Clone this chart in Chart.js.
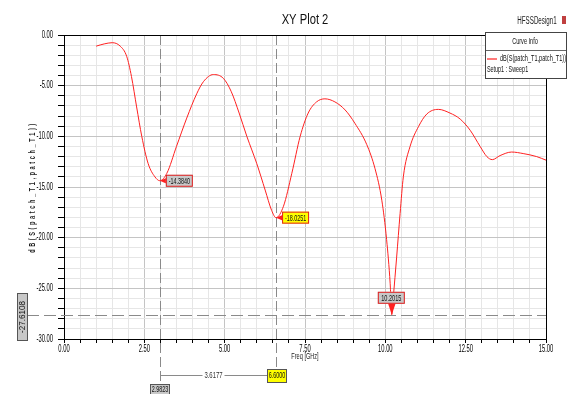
<!DOCTYPE html>
<html><head><meta charset="utf-8">
<script src="https://cdn.jsdelivr.net/npm/chart.js@4/dist/chart.umd.min.js"></script>
<style>html,body{margin:0;padding:0;background:#fff;}#wrap{width:569px;height:394px;position:relative;}</style>
</head><body><div id="wrap"><canvas id="c" width="569" height="394"></canvas></div>
<script>
const freqs = [1.0,1.25,1.5,1.75,1.95,2.1,2.26,2.42,2.62,2.83,2.98,3.2,3.5,3.82,4.13,4.34,4.65,4.96,5.2,5.45,5.69,6.0,6.26,6.46,6.6,6.83,7.09,7.35,7.6,7.86,8.12,8.43,8.75,9.05,9.42,9.68,9.89,10.04,10.15,10.2,10.25,10.35,10.46,10.56,10.77,11.03,11.29,11.65,12.01,12.33,12.64,12.95,13.16,13.33,13.57,13.93,14.29,14.71,15.0];
const s11 = [-1.1,-0.88,-0.76,-1.1,-2.1,-4.1,-7.1,-10.0,-12.7,-14.0,-14.38,-13.65,-11.0,-8.2,-5.8,-4.6,-3.9,-4.28,-5.55,-7.7,-10.0,-12.7,-15.3,-17.3,-18.03,-16.9,-13.65,-10.0,-7.7,-6.6,-6.3,-6.6,-7.4,-8.7,-10.8,-13.2,-16.3,-20.2,-24.5,-27.6,-25.8,-22.0,-17.6,-14.0,-11.0,-9.05,-7.8,-7.34,-7.7,-8.3,-9.4,-11.0,-12.0,-12.3,-11.9,-11.55,-11.7,-12.0,-12.35];
const markerFreqs = [2.9823, 6.60];
const markerVals = [-14.3840, -18.0251];
const markerFreqLabels = ["2.9823", "6.6000"];
const markerValLabels = ["-14.3840", "-18.0251"];
const deltaLabel = "3.6177";
const minFreq = 10.2015;
const minVal = -27.6108;
const minFreqLabel = "10.2015";
const minValLabel = "-27.6108";
const xTickLabelsEvery = 2.5;
const yTickLabelsEvery = 5;
const titleText = "XY Plot 2";
const designText = "HFSSDesign1";
const xTitle = "Freq [GHz]";
const yTitle = "dB(S(patch_T1,patch_T1))";
const legendHeader = "Curve Info";
const legendSeries = "dB(S(patch_T1,patch_T1))";
const legendSetup = "Setup1 : Sweep1";

const FONT = "'Liberation Sans',Arial,sans-serif";

function txt(ctx, s, x, y, o){
  o = o || {};
  ctx.save();
  ctx.translate(x, y);
  if (o.rot) ctx.rotate(o.rot);
  ctx.scale(o.sx || 0.62, 1);
  ctx.font = (o.bold ? 'bold ' : '') + (o.size || 9) + 'px ' + FONT;
  ctx.textAlign = o.align || 'center';
  ctx.textBaseline = 'middle';
  if (o.spacing) ctx.letterSpacing = o.spacing + 'px';
  ctx.fillStyle = o.color || '#111';
  ctx.fillText(s, 0, 0);
  ctx.restore();
}
function box(ctx, x, y, w, h, fill, stroke){
  ctx.fillStyle = fill; ctx.fillRect(x, y, w, h);
  ctx.strokeStyle = stroke; ctx.lineWidth = 1; ctx.setLineDash([]); ctx.strokeRect(x+0.5, y+0.5, w-1, h-1);
}

const overlay = {
  id: 'overlay',
  beforeDatasetsDraw(chart){
    const ctx = chart.ctx, xs = chart.scales.x, ys = chart.scales.y, a = chart.chartArea;
    ctx.save();
    ctx.strokeStyle = '#8a8a8a'; ctx.lineWidth = 1; ctx.setLineDash([10,4]);
    markerFreqs.forEach((f,i)=>{
      const px = Math.round(xs.getPixelForValue(f))+0.5;
      ctx.beginPath(); ctx.moveTo(px, a.top); ctx.lineTo(px, i===0?385:370); ctx.stroke();
    });
    const py = Math.round(ys.getPixelForValue(minVal))+0.5;
    ctx.setLineDash([12,5]);
    ctx.beginPath(); ctx.moveTo(27, py); ctx.lineTo(a.right, py); ctx.stroke();
    ctx.restore();
  },
  afterDatasetsDraw(chart){
    const ctx = chart.ctx, xs = chart.scales.x, ys = chart.scales.y, a = chart.chartArea;
    ctx.save();
    ctx.strokeStyle = '#000'; ctx.lineWidth = 1; ctx.setLineDash([]);
    ctx.beginPath(); ctx.moveTo(a.left, a.top+0.5); ctx.lineTo(a.right+0.5, a.top+0.5); ctx.lineTo(a.right+0.5, a.bottom); ctx.stroke();
    xs.ticks.forEach(t=>{
      if (Math.abs(t.value/xTickLabelsEvery - Math.round(t.value/xTickLabelsEvery)) < 1e-6)
        txt(ctx, t.value.toFixed(2), xs.getPixelForValue(t.value), a.bottom + 10, {size:10, sx:0.58, color:'#000'});
    });
    ys.ticks.forEach(t=>{
      if (Math.abs(t.value/yTickLabelsEvery - Math.round(t.value/yTickLabelsEvery)) < 1e-6)
        txt(ctx, t.value.toFixed(2), a.left - 11, ys.getPixelForValue(t.value), {size:10, sx:0.58, align:'right', color:'#000'});
    });
    const fills = ['#c8c8c8', '#ffff00'];
    markerFreqs.forEach((f,i)=>{
      const px = xs.getPixelForValue(f), py = ys.getPixelForValue(markerVals[i]);
      const bx = px + 6, by = py - 6, w = 27, h = 12;
      ctx.fillStyle = '#ff2020';
      ctx.beginPath(); ctx.moveTo(px, py); ctx.lineTo(bx+1, by+3); ctx.lineTo(bx+1, by+9); ctx.closePath(); ctx.fill();
      box(ctx, bx, by, w, h, fills[i], '#e02020');
      txt(ctx, markerValLabels[i], bx + w/2, by + h/2 + 0.5, {size:9, sx:0.6});
    });
    {
      const px = xs.getPixelForValue(minFreq), py = ys.getPixelForValue(minVal);
      const w = 27, h = 12, bx = px - 14, by = py - 23;
      ctx.fillStyle = '#ff2020';
      ctx.beginPath(); ctx.moveTo(px, py); ctx.lineTo(px-4, by+h-1); ctx.lineTo(px+4, by+h-1); ctx.closePath(); ctx.fill();
      box(ctx, bx, by, w, h, '#c8c8c8', '#e02020');
      txt(ctx, minFreqLabel, bx + w/2, by + h/2 + 0.5, {size:9, sx:0.62});
    }
    const p0 = Math.round(xs.getPixelForValue(markerFreqs[0])), p1 = Math.round(xs.getPixelForValue(markerFreqs[1]));
    ctx.strokeStyle = '#8a8a8a'; ctx.setLineDash([]);
    ctx.beginPath(); ctx.moveTo(p0+0.5, 375.5); ctx.lineTo(p1-9, 375.5); ctx.stroke();
    const mid = (p0 + p1 - 9) / 2;
    ctx.fillStyle = '#fff'; ctx.fillRect(mid - 11, 370, 22, 11);
    txt(ctx, deltaLabel, mid, 376, {size:9, sx:0.66, color:'#333'});
    box(ctx, p0 - 10, 384, 20, 12, '#c8c8c8', '#555');
    txt(ctx, markerFreqLabels[0], p0, 390, {size:9, sx:0.6});
    box(ctx, p1 - 9, 369, 20, 14, '#ffff00', '#555');
    txt(ctx, markerFreqLabels[1], p1 + 1, 376, {size:9, sx:0.6});
    box(ctx, 17, 293, 11, 48, '#c8c8c8', '#555');
    txt(ctx, minValLabel, 22.5, 317, {size:9, sx:0.9, rot:-Math.PI/2});
    ctx.restore();
  },
  afterDraw(chart){
    const ctx = chart.ctx;
    ctx.save();
    txt(ctx, titleText, 305, 20, {size:14, sx:0.8, color:'#111'});
    txt(ctx, designText, 537, 21, {size:10, sx:0.62, color:'#222'});
    ctx.fillStyle = '#c04040'; ctx.fillRect(562, 16, 4, 8);
    txt(ctx, xTitle, 305, 357, {size:9, sx:0.62, color:'#222'});
    txt(ctx, yTitle, 33, 187, {size:9, bold:true, sx:0.62, rot:-Math.PI/2, spacing:4.2, color:'#222'});
    box(ctx, 485, 32, 82, 47, '#ffffff', '#444');
    ctx.strokeStyle = '#666'; ctx.beginPath(); ctx.moveTo(486, 50.5); ctx.lineTo(566, 50.5); ctx.stroke();
    txt(ctx, legendHeader, 525, 42, {size:9, sx:0.62});
    ctx.strokeStyle = '#ff2020'; ctx.lineWidth = 1.2; ctx.beginPath(); ctx.moveTo(487, 59); ctx.lineTo(497, 59); ctx.stroke();
    txt(ctx, legendSeries, 500, 59, {size:9, sx:0.62, align:'left'});
    txt(ctx, legendSetup, 487, 70, {size:9, sx:0.6, align:'left'});
    ctx.restore();
  }
};

const isMult = (v, m) => Math.abs(v/m - Math.round(v/m)) < 1e-6;

new Chart(document.getElementById('c'), {
  type: 'line',
  data: { datasets: [{
    data: freqs.map((f,i)=>({x:f, y:s11[i]})),
    borderColor: '#ff2020', borderWidth: 1, pointRadius: 0,
    cubicInterpolationMode: 'monotone', fill: false
  }]},
  options: {
    responsive: false, animation: false, devicePixelRatio: 1,
    layout: { padding: { top: 35, right: 23, left: 0, bottom: 0 } },
    plugins: { legend: { display: false }, tooltip: { enabled: false } },
    scales: {
      x: {
        type: 'linear', min: 0, max: 15,
        afterFit(s){ s.height = 55; },
        ticks: { stepSize: 0.5, autoSkip: false, maxRotation: 0, display: false },
        grid: { color: c => isMult(c.tick.value, xTickLabelsEvery) ? '#c4c4c4' : '#e6e6e6',
          tickColor: '#000', tickLength: 4, drawTicks: true },
        border: { display: true, color: '#000', width: 1 }
      },
      y: {
        min: -30, max: 0,
        afterFit(s){ s.width = 64; },
        ticks: { stepSize: 1, autoSkip: false, display: false },
        grid: { color: c => isMult(c.tick.value, yTickLabelsEvery) ? '#c4c4c4' : '#e6e6e6',
          tickColor: '#000', tickLength: 6, drawTicks: true },
        border: { display: true, color: '#000', width: 1 }
      }
    }
  },
  plugins: [overlay]
});
</script></body></html>
